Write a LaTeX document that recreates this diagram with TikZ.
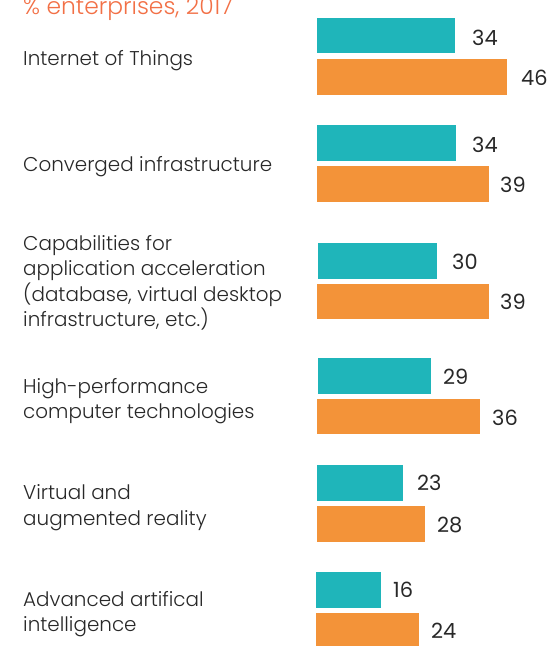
\documentclass[tikz,border=0pt]{standalone}
\usepackage{fontspec}
\IfFontExistsTF{Poppins Light}{\setmainfont{Poppins Light}}{\setmainfont{Poppins}}
\newfontfamily\valfont{Poppins}
\definecolor{barteal}{RGB}{31,181,186}
\definecolor{barorange}{RGB}{243,147,57}
\definecolor{titlecol}{RGB}{242,112,70}
\definecolor{txtcol}{RGB}{40,40,40}
\begin{document}
\begin{tikzpicture}[x=1bp,y=-1bp,
  tbar/.style={fill=barteal},
  obar/.style={fill=barorange},
  val/.style={anchor=west, inner sep=0pt, font=\valfont\fontsize{21}{25}\selectfont, text=txtcol},
  cat/.style={anchor=west, inner sep=0pt, align=left, font=\fontsize{20}{25.5}\selectfont, text=txtcol}]
\useasboundingbox (0,0) rectangle (554,646);
\node[anchor=base west, inner sep=0pt, font=\fontsize{23.5}{26}\selectfont, text=titlecol] (title) at (23,15) {\% enterprises, 2017};
% group 1
\fill[tbar] (317,18) rectangle (455,53);
\fill[obar] (317,59) rectangle (507,95);
\node[val] (v1a) at (472,38) {34};
\node[val] (v1b) at (521,78) {46};
\node[cat] (c1) at (23,61) {Internet of Things};
% group 2
\fill[tbar] (317,125) rectangle (456,161);
\fill[obar] (317,166) rectangle (489,202);
\node[val] (v2a) at (472,144.5) {34};
\node[val] (v2b) at (500,184.5) {39};
\node[cat] (c2) at (23,167) {Converged infrastructure};
% group 3
\fill[tbar] (318,243) rectangle (437,279);
\fill[obar] (317,284) rectangle (489,319);
\node[val] (v3a) at (452,262) {30};
\node[val] (v3b) at (500,302) {39};
\node[cat] (c3) at (23,283) {Capabilities for\\application acceleration\\(database, virtual desktop\\infrastructure, etc.)};
% group 4
\fill[tbar] (318,358) rectangle (431,394);
\fill[obar] (317,399) rectangle (480,434);
\node[val] (v4a) at (443,377) {29};
\node[val] (v4b) at (492,417.5) {36};
\node[cat] (c4) at (23,401) {High-performance\\computer technologies};
% group 5
\fill[tbar] (317,465) rectangle (403,501);
\fill[obar] (317,506) rectangle (425,542);
\node[val] (v5a) at (417,483) {23};
\node[val] (v5b) at (437,525) {28};
\node[cat] (c5) at (23,507.5) {Virtual and\\augmented reality};
% group 6
\fill[tbar] (316,572) rectangle (381,608);
\fill[obar] (316,613) rectangle (419,646);
\node[val] (v6a) at (393,590) {16};
\node[val] (v6b) at (431,631) {24};
\node[cat] (c6) at (23,614) {Advanced artifical\\intelligence};
\end{tikzpicture}
\end{document}
